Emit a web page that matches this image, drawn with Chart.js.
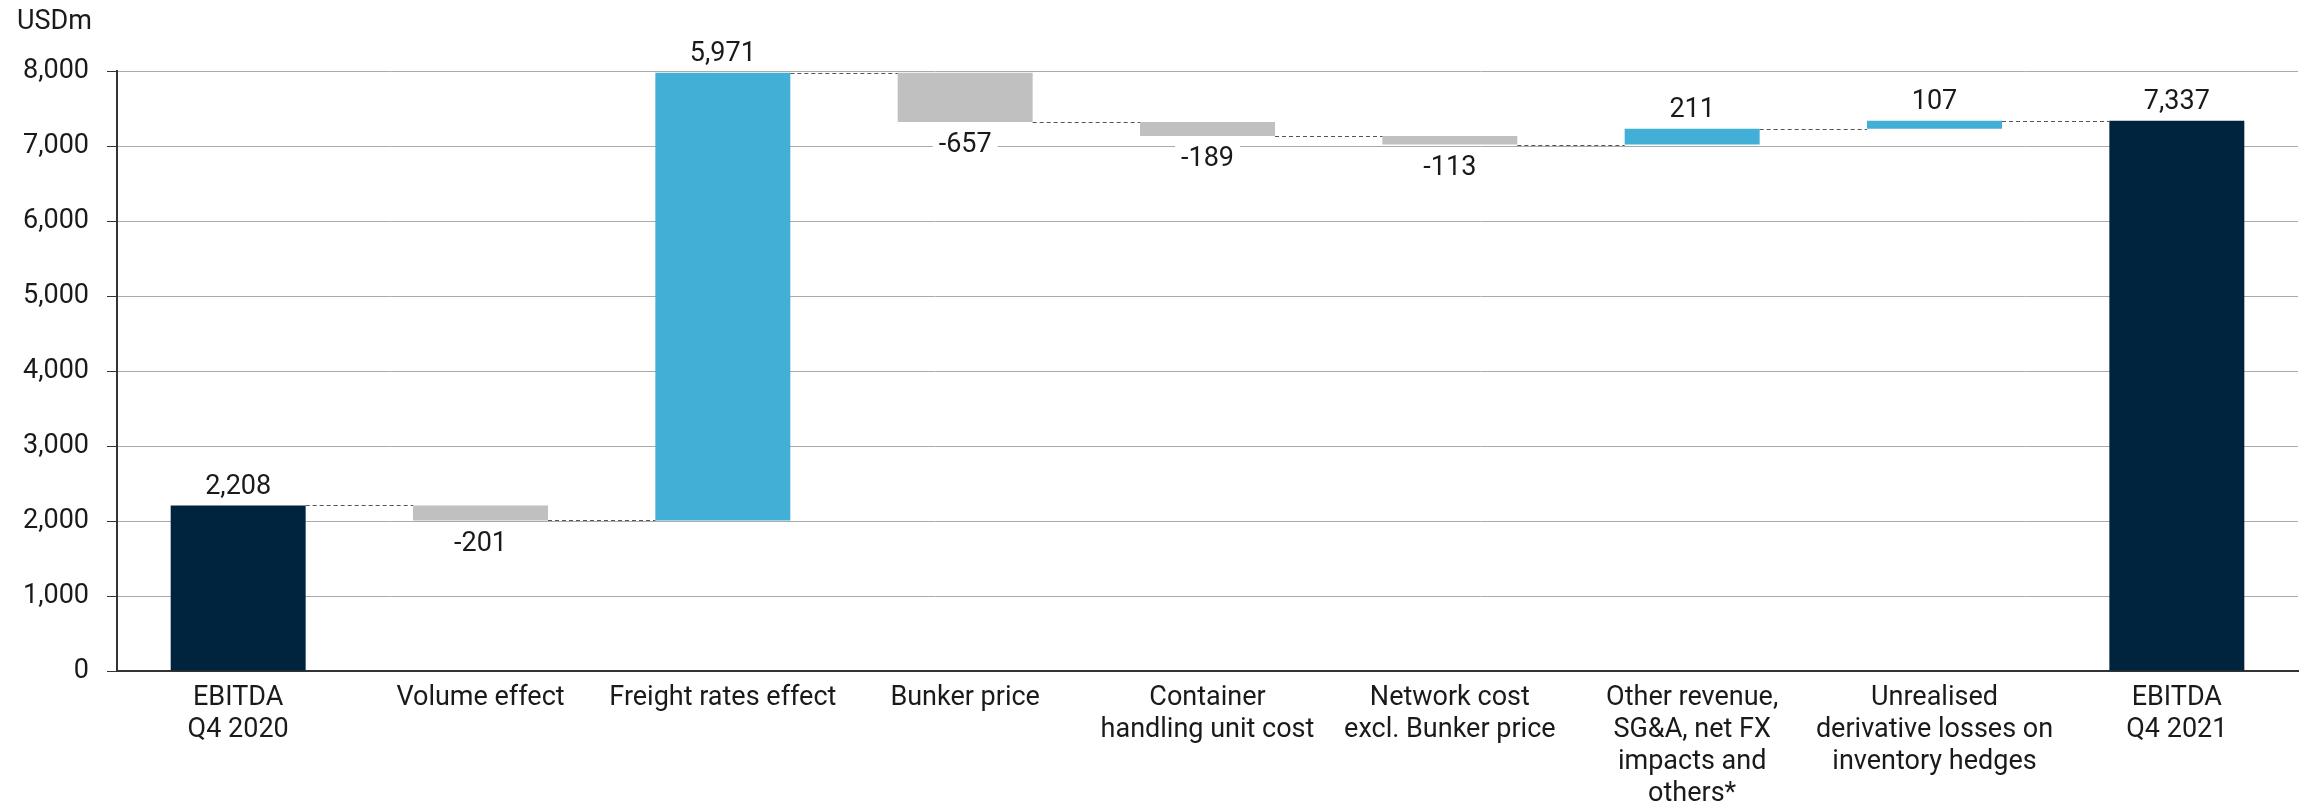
<!DOCTYPE html>
<html>
<head>
<meta charset="utf-8">
<script src="https://cdn.jsdelivr.net/npm/chart.js"></script>
<style>
body{ margin:0; background:#fff; }
#wrap{ width:2313px; height:808px; }
</style>
</head>
<body>
<div id="wrap"><canvas id="bridge"></canvas></div>

<script>
    // EBITDA bridge Q4 2020 -> Q4 2021, USDm
    var categories = [
        ["EBITDA", "Q4 2020"],
        "Volume effect",
        "Freight rates effect",
        "Bunker price",
        ["Container", "handling unit cost"],
        ["Network cost", "excl. Bunker price"],
        ["Other revenue,", "SG&A, net FX", "impacts and", "others*"],
        ["Unrealised", "derivative losses on", "inventory hedges"],
        ["EBITDA", "Q4 2021"]
    ];
    var changes = [2208, -201, 5971, -657, -189, -113, 211, 107, 7337];
    var isTotal = [true, false, false, false, false, false, false, false, true];
    var yTicks = [0, 1000, 2000, 3000, 4000, 5000, 6000, 7000, 8000];

    var FONT = "Roboto, sans-serif";
    var SIZE = 27;
    var NAVY = "#00243d", BLUE = "#42afd6", GREY = "#c0c0c0";

    // floating bar ranges
    var ranges = [], colors = [], running = 0;
    for (var i = 0; i < changes.length; i++) {
        if (isTotal[i]) {
            ranges.push([0, changes[i]]);
            running = changes[i];
            colors.push(NAVY);
        } else {
            ranges.push([running, running + changes[i]]);
            running += changes[i];
            colors.push(changes[i] < 0 ? GREY : BLUE);
        }
    }

    var fmt = function (v) { return v.toLocaleString("en-US"); };

    // dashed connectors, value labels and unit label
    var extras = {
        id: "extras",
        afterDatasetsDraw: function (chart) {
            var ctx = chart.ctx;
            var meta = chart.getDatasetMeta(0);
            var y = chart.scales.y;
            ctx.save();
            // connectors
            ctx.strokeStyle = "#555";
            ctx.lineWidth = 1.2;
            ctx.setLineDash([4, 3]);
            for (var i = 0; i < meta.data.length - 1; i++) {
                var a = meta.data[i], b = meta.data[i + 1];
                var py = Math.round(y.getPixelForValue(ranges[i][1])) + 0.5;
                ctx.beginPath();
                ctx.moveTo(a.x + a.width / 2, py);
                ctx.lineTo(b.x - b.width / 2, py);
                ctx.stroke();
            }
            ctx.setLineDash([]);
            // value labels
            ctx.font = SIZE + "px " + FONT;
            ctx.textAlign = "center";
            ctx.fillStyle = "#1a1a1a";
            for (var j = 0; j < meta.data.length; j++) {
                var bar = meta.data[j];
                var top = y.getPixelForValue(Math.max(ranges[j][0], ranges[j][1]));
                var bot = y.getPixelForValue(Math.min(ranges[j][0], ranges[j][1]));
                var txt = fmt(changes[j]);
                if (changes[j] < 0) {
                    var w = ctx.measureText(txt).width;
                    ctx.fillStyle = "#fff";
                    ctx.fillRect(bar.x - w / 2 - 6, bot + 8, w + 12, 28);
                    ctx.fillStyle = "#1a1a1a";
                    ctx.textBaseline = "top";
                    ctx.fillText(txt, bar.x, bot + 10);
                } else {
                    ctx.textBaseline = "bottom";
                    ctx.fillText(txt, bar.x, top - 5);
                }
            }
            // unit
            ctx.textAlign = "left";
            ctx.textBaseline = "middle";
            ctx.fillText("USDm", 17, 22);
            ctx.restore();
        }
    };

    new Chart(document.getElementById("bridge"), {
        type: "bar",
        data: {
            labels: categories,
            datasets: [{
                data: ranges,
                backgroundColor: colors,
                borderWidth: 0,
                barPercentage: 0.557,
                categoryPercentage: 1.0
            }]
        },
        options: {
            responsive: true,
            maintainAspectRatio: false,
            animation: false,
            layout: { padding: { top: 71, right: 15, left: 0, bottom: 0 } },
            plugins: {
                legend: { display: false },
                tooltip: { enabled: false }
            },
            scales: {
                x: {
                    grid: { display: false, drawTicks: false },
                    border: { display: true, color: "#333", width: 2 },
                    ticks: {
                        color: "#1a1a1a",
                        font: { family: FONT, size: SIZE, lineHeight: 1.19 },
                        padding: 11,
                        maxRotation: 0,
                        autoSkip: false
                    },
                    afterFit: function (s) { s.height = 137; }
                },
                y: {
                    min: 0,
                    max: 8000,
                    afterBuildTicks: function (s) {
                        s.ticks = yTicks.map(function (v) { return { value: v }; });
                    },
                    grid: { color: "#aaaaaa", lineWidth: 1, tickColor: "#333", tickLength: 10 },
                    border: { display: true, color: "#333", width: 2 },
                    ticks: {
                        color: "#1a1a1a",
                        font: { family: FONT, size: SIZE },
                        padding: 18,
                        callback: function (v) { return fmt(v); }
                    },
                    afterFit: function (s) { s.width = 117; }
                }
            }
        },
        plugins: [extras]
    });
</script>
</body>
</html>
